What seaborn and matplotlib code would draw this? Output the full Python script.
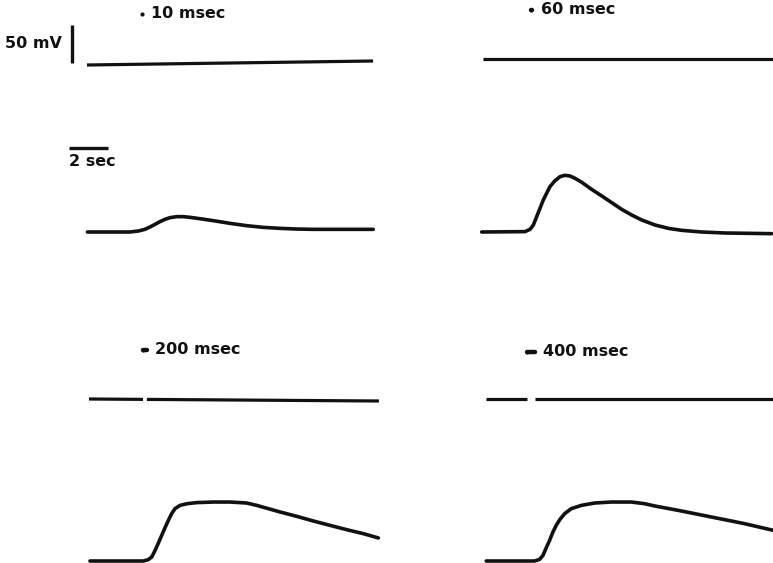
import matplotlib
matplotlib.use("Agg")
import matplotlib.pyplot as plt
import seaborn as sns

# stimulus durations (sec) and their labels
durations = [0.010, 0.060, 0.200, 0.400]
labels = ["10 msec", "60 msec", "200 msec", "400 msec"]

# response traces: time from stimulus onset (sec), depolarisation (mV)
t_10 = [-2.80, -0.62, -0.19, 0.15, 0.41, 0.67, 0.92, 1.18, 1.44, 1.78, 2.12,
        2.46, 2.97, 3.66, 4.51, 5.37, 6.22, 7.08, 7.93, 8.79, 11.86]
v_10 = [0.0, 0.0, 1.3, 3.5, 6.6, 10.1, 13.6, 16.7, 18.9, 20.2, 20.2,
        19.3, 17.5, 14.9, 11.4, 8.3, 6.1, 4.8, 3.9, 3.5, 3.5]

t_60 = [-2.53, -0.31, -0.05, 0.12, 0.29, 0.46, 0.63, 0.80, 0.97, 1.23, 1.49,
        1.74, 2.00, 2.26, 2.60, 3.11, 3.63, 4.14, 4.65, 5.16, 5.68, 6.36,
        7.04, 7.73, 8.75, 9.95, 12.34]
v_60 = [0.0, 0.5, 3.5, 9.2, 20.2, 31.1, 42.1, 50.9, 59.6, 67.5, 72.8,
        74.6, 73.7, 70.6, 65.4, 56.1, 47.4, 38.6, 29.8, 22.4, 15.8, 9.2,
        4.8, 2.2, 0.0, -1.3, -2.2]

t_200 = [-2.72, 0.02, 0.27, 0.45, 0.62, 0.79, 0.96, 1.13, 1.30, 1.47, 1.64,
         1.90, 2.26, 2.74, 3.61, 4.46, 5.32, 5.83, 7.03, 7.88, 8.74, 9.59,
         10.45, 11.30, 12.07]
v_200 = [0.0, 0.0, 1.8, 5.3, 14.0, 23.7, 33.8, 43.9, 53.5, 62.3, 68.9,
         73.2, 75.4, 76.8, 77.6, 77.6, 76.3, 73.2, 64.5, 58.8, 52.6, 46.9,
         41.2, 36.0, 30.3]

t_400 = [-2.09, 0.39, 0.65, 0.82, 0.99, 1.16, 1.33, 1.50, 1.68, 1.93, 2.27,
         2.79, 3.47, 4.32, 5.35, 6.03, 6.55, 7.74, 8.60, 9.45, 10.31, 11.16,
         12.62]
v_400 = [0.0, 0.0, 2.2, 7.5, 17.5, 27.2, 38.2, 47.0, 54.4, 62.3, 68.9,
         73.2, 76.3, 77.6, 77.6, 75.4, 72.4, 66.7, 62.3, 57.9, 53.5, 49.1,
         40.4]

# stimulus monitor trace extent (sec), interrupted during the pulse
stim_start = [-2.82, -2.46, -2.77, -2.10]
stim_end = [11.85, 12.41, 12.10, 12.62]
stim_broken = [False, False, True, True]

scale_mv = 50
scale_sec = 2

W, H = 773, 563
PX_PER_SEC = 19.5
PX_PER_MV = 0.76

# layout in pixels: stimulus onset x, response baseline y,
# stimulus trace y (left, right), label y
layout = [
    dict(x0=142, y0=232, stim_y=(65, 61), lab_y=14),
    dict(x0=531, y0=232, stim_y=(59, 59), lab_y=10),
    dict(x0=143, y0=561, stim_y=(399, 401), lab_y=350),
    dict(x0=527, y0=561, stim_y=(399, 399), lab_y=352),
]

traces = [(t_10, v_10), (t_60, v_60), (t_200, v_200), (t_400, v_400)]

sns.set_style("white")
plt.rcParams["font.family"] = ["DejaVu Sans"]

fig = plt.figure(figsize=(W / 100, H / 100), dpi=100)
ink = "#111111"

axes = []
for i, lay in enumerate(layout):
    ax = fig.add_axes([0, 0, 1, 1])
    ax.patch.set_alpha(0)
    ax.set_xlim(-lay["x0"] / PX_PER_SEC, (W - lay["x0"]) / PX_PER_SEC)
    ax.set_ylim(-(H - lay["y0"]) / PX_PER_MV, lay["y0"] / PX_PER_MV)
    ax.axis("off")
    axes.append(ax)

    def ydat(py, lay=lay):
        return (lay["y0"] - py) / PX_PER_MV

    # response
    t, v = traces[i]
    sns.lineplot(x=t, y=v, ax=ax, color=ink, linewidth=2.6, sort=False,
                 estimator=None, solid_capstyle="round", solid_joinstyle="round")

    # stimulus monitor trace
    ya, yb = ydat(lay["stim_y"][0]), ydat(lay["stim_y"][1])
    t0, t1 = stim_start[i], stim_end[i]
    slope = (yb - ya) / (t1 - t0)
    if stim_broken[i]:
        segs = [(t0, 0.0), (durations[i], t1)]
    else:
        segs = [(t0, t1)]
    for a, b in segs:
        sns.lineplot(x=[a, b], y=[ya + slope * (a - t0), ya + slope * (b - t0)],
                     ax=ax, color=ink, linewidth=2.3, estimator=None,
                     solid_capstyle="butt")

    # stimulus marker and label
    ly = ydat(lay["lab_y"])
    ax.plot([0, durations[i]], [ly, ly], color=ink, linewidth=3.2,
            solid_capstyle="round", marker="o", markersize=3.0,
            markeredgewidth=0, markevery=[0])
    ax.annotate(labels[i], xy=(durations[i], ly), xytext=(6, 0),
                textcoords="offset points", ha="left", va="center",
                fontsize=11.5, fontweight="bold", color=ink)

# scale bars on the first panel
ax = axes[0]
lay = layout[0]
bx = (72 - lay["x0"]) / PX_PER_SEC
by = (lay["y0"] - 63) / PX_PER_MV
ax.plot([bx, bx], [by, by + scale_mv], color=ink, linewidth=2.4,
        solid_capstyle="butt")
ax.annotate(f"{scale_mv} mV", xy=(bx, by + scale_mv / 2), xytext=(-7, 0),
            textcoords="offset points", ha="right", va="center",
            fontsize=11.5, fontweight="bold", color=ink)

hx = (69 - lay["x0"]) / PX_PER_SEC
hy = (lay["y0"] - 148) / PX_PER_MV
ax.plot([hx, hx + scale_sec], [hy, hy], color=ink, linewidth=2.4,
        solid_capstyle="butt")
ax.annotate(f"{scale_sec} sec", xy=(hx, hy), xytext=(0, -4),
            textcoords="offset points", ha="left", va="top",
            fontsize=11.5, fontweight="bold", color=ink)

fig.savefig("out.png", dpi=100, facecolor="white")
